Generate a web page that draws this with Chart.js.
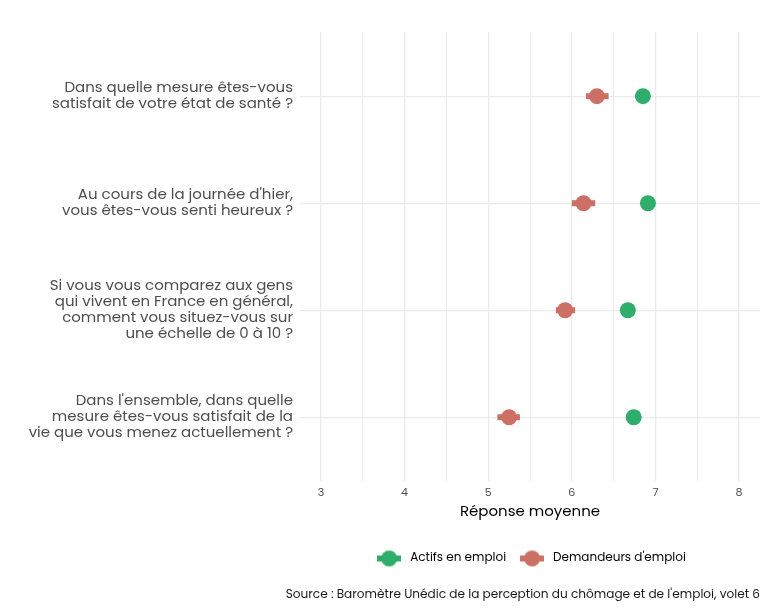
<!DOCTYPE html>
<html><head><meta charset="utf-8">
<script src="https://cdn.jsdelivr.net/npm/chart.js@4/dist/chart.umd.min.js"></script>
<style>html,body{margin:0;padding:0;background:#fff}#wrap{width:768px;height:608px}</style>
</head><body><div id="wrap"><canvas id="c" width="768" height="608"></canvas></div>
<script>
const categories = [
  ["Dans quelle mesure êtes-vous", "satisfait de votre état de santé ?"],
  ["Au cours de la journée d'hier,", "vous êtes-vous senti heureux ?"],
  ["Si vous vous comparez aux gens", "qui vivent en France en général,", "comment vous situez-vous sur", "une échelle de 0 à 10 ?"],
  ["Dans l'ensemble, dans quelle", "mesure êtes-vous satisfait de la", "vie que vous menez actuellement ?"]
];
const seriesNames = ["Actifs en emploi", "Demandeurs d'emploi"];
const actifsMean = [6.85, 6.91, 6.67, 6.74];
const actifsLow  = [6.80, 6.86, 6.62, 6.69];
const actifsHigh = [6.90, 6.96, 6.72, 6.79];
const demMean = [6.30, 6.14, 5.92, 5.25];
const demLow  = [6.17, 6.00, 5.81, 5.11];
const demHigh = [6.44, 6.28, 6.04, 5.38];
const xTicks = [3, 3.5, 4, 4.5, 5, 5.5, 6, 6.5, 7, 7.5, 8];
const colors = ["#2eae6a", "#cc7066"];
const FONT = "Poppins, 'Open Sans', 'Noto Sans', sans-serif";

function legendGlyph(color) {
  const cv = document.createElement('canvas');
  cv.width = 24; cv.height = 18;
  const g = cv.getContext('2d');
  g.fillStyle = color;
  g.fillRect(0, 6, 24, 6);
  g.beginPath(); g.arc(12, 9, 8, 0, Math.PI * 2); g.fill();
  return cv;
}
const glyphs = colors.map(legendGlyph);

function mk(vals, lo, hi, idx) {
  return {
    label: seriesNames[idx],
    data: vals.map((v, i) => ({x: v, y: i + 1, lo: lo[i], hi: hi[i]})),
    backgroundColor: colors[idx],
    borderColor: colors[idx],
    pointRadius: 8,
    pointHoverRadius: 8,
    borderWidth: 0,
    showLine: false
  };
}

const errorBars = {
  id: 'errorBars',
  beforeDatasetsDraw(chart) {
    const ctx = chart.ctx, xs = chart.scales.x, ys = chart.scales.y;
    ctx.save();
    chart.data.datasets.forEach((ds) => {
      ctx.strokeStyle = ds.borderColor;
      ctx.lineWidth = 6;
      ctx.lineCap = 'butt';
      ds.data.forEach(p => {
        const y = ys.getPixelForValue(p.y);
        ctx.beginPath();
        ctx.moveTo(xs.getPixelForValue(p.lo), y);
        ctx.lineTo(xs.getPixelForValue(p.hi), y);
        ctx.stroke();
      });
    });
    ctx.restore();
  }
};

new Chart(document.getElementById('c'), {
  type: 'scatter',
  data: { datasets: [mk(actifsMean, actifsLow, actifsHigh, 0), mk(demMean, demLow, demHigh, 1)] },
  plugins: [errorBars],
  options: {
    responsive: false,
    animation: false,
    layout: { padding: { top: 32, right: 8, left: 0, bottom: 6 } },
    plugins: {
      tooltip: { enabled: false },
      legend: {
        position: 'bottom',
        fullSize: false,
        labels: {
          font: { family: FONT, size: 12 },
          color: '#1a1a1a',
          usePointStyle: true,
          pointStyleWidth: 30,
          padding: 11,
          generateLabels: () => seriesNames.map((n, i) => ({
            text: n, pointStyle: glyphs[i], fillStyle: colors[i], strokeStyle: colors[i],
            lineWidth: 0, datasetIndex: i, hidden: false
          }))
        }
      },
      title: {
        display: true,
        position: 'bottom',
        align: 'end',
        text: "Source : Baromètre Unédic de la perception du chômage et de l'emploi, volet 6",
        font: { family: FONT, size: 12.1, weight: 'normal' },
        color: '#1a1a1a',
        padding: { top: 13, bottom: 0 }
      }
    },
    scales: {
      x: {
        type: 'linear',
        min: 2.75, max: 8.25,
        afterBuildTicks: (s) => { s.ticks = xTicks.map(v => ({value: v})); },
        ticks: {
          autoSkip: false,
          maxRotation: 0,
          font: { family: FONT, size: 11, lineHeight: 1 },
          color: '#4d4d4d',
          padding: 6,
          callback: (v) => Number.isInteger(v) ? String(v) : ''
        },
        grid: { color: '#ebebeb', lineWidth: (c) => (c.tick && Number.isInteger(c.tick.value)) ? 1.3 : 1, drawTicks: false },
        border: { display: false },
        title: {
          display: true, text: 'Réponse moyenne',
          font: { family: FONT, size: 15 }, color: '#000', padding: { top: -1, bottom: 20 }
        }
      },
      y: {
        type: 'linear',
        reverse: true,
        min: 0.4, max: 4.6,
        afterBuildTicks: (s) => { s.ticks = categories.map((c, i) => ({value: i + 1})); },
        afterFit: (s) => { s.width = 300; },
        ticks: {
          autoSkip: false,
          font: { family: FONT, size: 15, lineHeight: 1.07 },
          color: '#4d4d4d',
          padding: 7,
          callback: (v) => categories[v - 1] || ''
        },
        grid: { color: '#ebebeb', lineWidth: 1.3, drawTicks: false },
        border: { display: false }
      }
    }
  }
});
</script></body></html>
